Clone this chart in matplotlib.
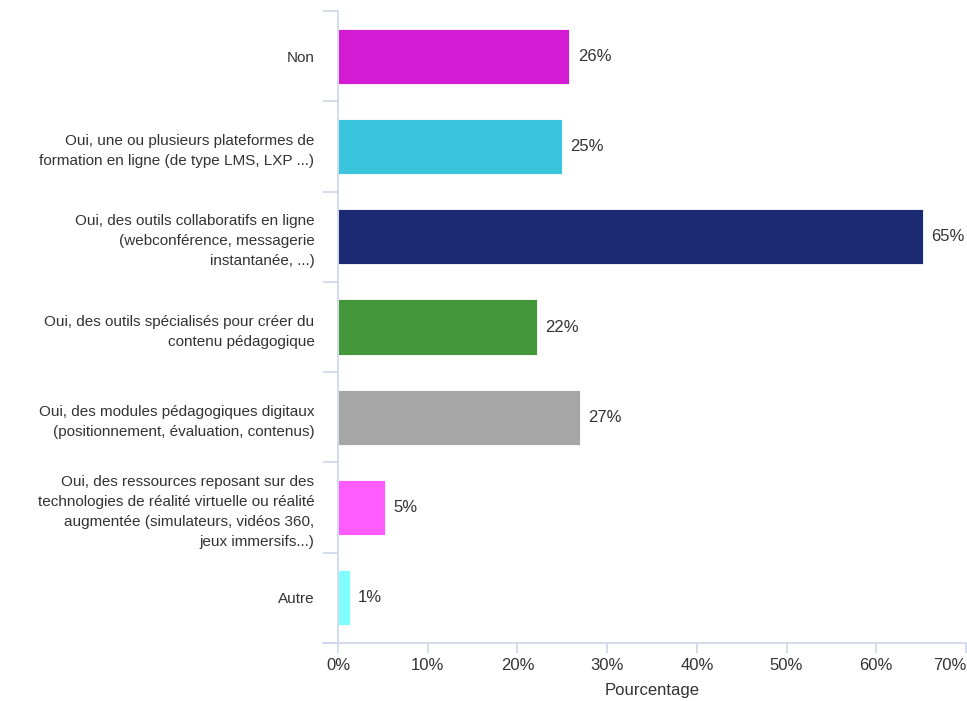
import matplotlib
matplotlib.use("Agg")
import matplotlib.pyplot as plt

categories = [
    "Non",
    "Oui, une ou plusieurs plateformes de\nformation en ligne (de type LMS, LXP ...)",
    "Oui, des outils collaboratifs en ligne\n(webconférence, messagerie\ninstantanée, ...)",
    "Oui, des outils spécialisés pour créer du\ncontenu pédagogique",
    "Oui, des modules pédagogiques digitaux\n(positionnement, évaluation, contenus)",
    "Oui, des ressources reposant sur des\ntechnologies de réalité virtuelle ou réalité\naugmentée (simulateurs, vidéos 360,\njeux immersifs...)",
    "Autre",
]
values = [25.8, 25.0, 65.2, 22.2, 27.0, 5.2, 1.3]
colors = ["#D41BD4", "#3BC5DC", "#1B2A73", "#43963A", "#A6A6A6", "#FF5CFF", "#7FFFFF"]
xticks = [0, 10, 20, 30, 40, 50, 60, 70]

plt.rcParams["font.family"] = ["Liberation Sans", "DejaVu Sans"]
text_color = "#333333"
axis_color = "#CCD6EB"
fs = 12

fig = plt.figure(figsize=(9.67, 7.01), dpi=100)
ax = fig.add_axes([338 / 967, 1 - 643 / 701, 628 / 967, 632 / 701])

ypos = list(range(len(categories)))
ax.barh(ypos, values, height=0.61, color=colors, edgecolor="white", linewidth=0.6)

for y, v in zip(ypos, values):
    ax.annotate(f"{round(v)}%", (v, y), xytext=(6, 0), textcoords="offset points",
                va="center", ha="left", fontsize=fs, color=text_color)

ax.set_xlim(0, 70)
ax.set_ylim(len(categories) - 0.5, -0.5)

ax.set_xticks(xticks)
ax.set_xticklabels([f"{t}%" for t in xticks], fontsize=fs, color=text_color)
ax.get_xticklabels()[-1].set_ha("right")
ax.set_xlabel("Pourcentage", fontsize=fs, color=text_color)
ax.xaxis.set_label_coords(0.5, -0.064)

ax.set_yticks(ypos)
ax.set_yticklabels(categories, fontsize=11, color=text_color, ha="right", linespacing=1.55)
ax.tick_params(axis="y", length=0, pad=17)
ax.set_yticks([y - 0.5 for y in range(len(categories) + 1)], minor=True)
ax.tick_params(axis="y", which="minor", length=11, color=axis_color, width=1.2)
ax.tick_params(axis="x", length=7, color=axis_color, width=1.2, pad=4)

for side in ["top", "right"]:
    ax.spines[side].set_visible(False)
ax.spines["left"].set_color(axis_color)
ax.spines["bottom"].set_color(axis_color)
ax.spines["left"].set_linewidth(1.2)
ax.spines["bottom"].set_linewidth(1.2)

# x-axis line extends left under the category ticks
ax.plot([-15 / 628 * 70, 0], [len(categories) - 0.5] * 2, color=axis_color,
        linewidth=1.2, clip_on=False)

fig.savefig("out.png", dpi=100)
